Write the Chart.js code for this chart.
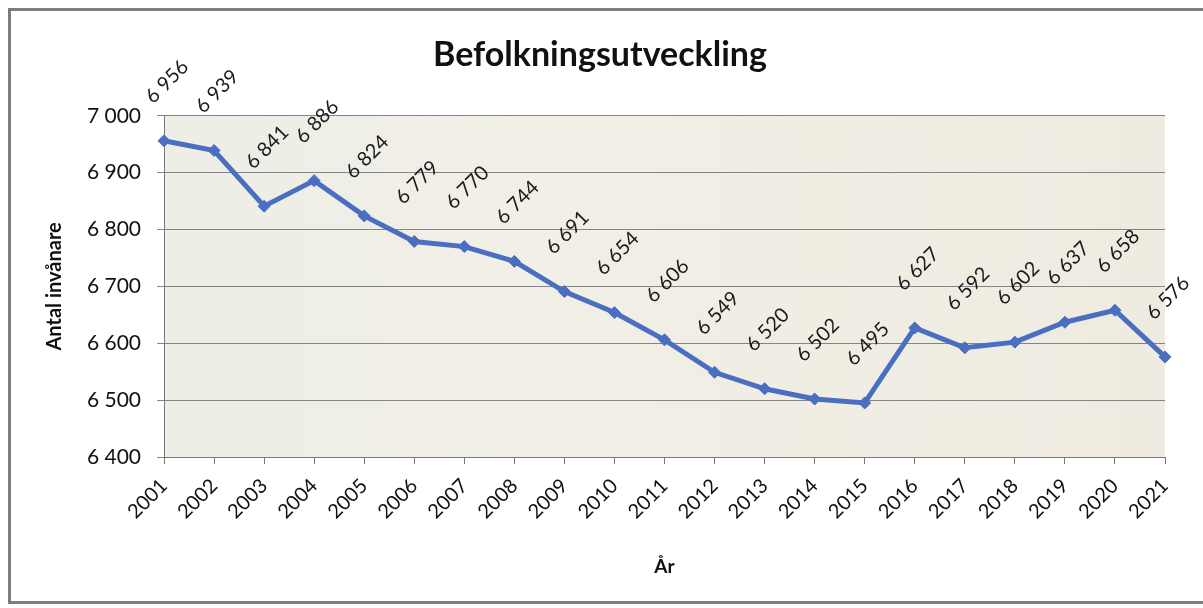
<!DOCTYPE html>
<html>
<head>
<meta charset="utf-8">
<script src="https://cdn.jsdelivr.net/npm/chart.js@4"></script>
<style>
body{margin:0;background:#fff;}
#wrap{position:absolute;left:0;top:0;width:1203px;height:608px;}
#frame{position:absolute;left:8px;top:8px;width:1200px;height:596px;border:3px solid #7d7d7d;box-sizing:border-box;pointer-events:none;}
</style>
</head>
<body>
<div id="wrap">
<canvas id="popChart" width="1203" height="608"></canvas>
<div id="frame"></div>
</div>
<script>
const years=["2001","2002","2003","2004","2005","2006","2007","2008","2009","2010","2011","2012","2013","2014","2015","2016","2017","2018","2019","2020","2021"];
const population=[6956,6939,6841,6886,6824,6779,6770,6744,6691,6654,6606,6549,6520,6502,6495,6627,6592,6602,6637,6658,6576];
const yTicks=[6400,6500,6600,6700,6800,6900,7000];

function fmt(v){
    return String(v).replace(/\B(?=(\d{3})+(?!\d))/g," ");
}

// bakgrund i diagramytan
const areaBg={
    id:'areaBg',
    beforeDraw(chart){
        const a=chart.chartArea;
        const ctx=chart.ctx;
        ctx.save();
        const g=ctx.createLinearGradient(a.left,0,a.right,0);
        g.addColorStop(0,'#eeeee6');
        g.addColorStop(0.35,'#f1efe6');
        g.addColorStop(1,'#efebe1');
        ctx.fillStyle=g;
        ctx.fillRect(a.left,a.top,a.right-a.left,a.bottom-a.top);
        ctx.restore();
    }
};

// roterade värdeetiketter
const valueLabels={
    id:'valueLabels',
    afterDatasetsDraw(chart){
        const ctx=chart.ctx;
        const meta=chart.getDatasetMeta(0);
        ctx.save();
        ctx.font='20px Lato';
        ctx.fillStyle='#1a1a1a';
        ctx.textAlign='center';
        ctx.textBaseline='middle';
        meta.data.forEach((pt,i)=>{
            ctx.save();
            ctx.translate(pt.x+3,pt.y-59);
            ctx.rotate(-Math.PI/4);
            ctx.fillText(fmt(population[i]),0,0);
            ctx.restore();
        });
        ctx.restore();
    }
};

new Chart(document.getElementById('popChart').getContext('2d'),{
    type:'line',
    data:{
        labels:years,
        datasets:[{
            data:population,
            borderColor:'#4a6ec0',
            backgroundColor:'#4a6ec0',
            borderWidth:5,
            pointStyle:'rectRot',
            pointRadius:6,
            pointBorderWidth:1,
            tension:0
        }]
    },
    options:{
        responsive:false,
        animation:false,
        layout:{padding:{left:35,right:38,top:35,bottom:26}},
        plugins:{
            legend:{display:false},
            tooltip:{enabled:false},
            title:{
                display:true,
                text:'Befolkningsutveckling',
                color:'#111',
                font:{family:'Lato',size:34,weight:'bold'},
                padding:{top:0,bottom:40}
            }
        },
        scales:{
            x:{
                offset:false,
                grid:{drawOnChartArea:false,drawTicks:true,tickLength:7,color:'#777'},
                border:{color:'#777',width:1},
                ticks:{color:'#111',font:{family:'Lato',size:20},minRotation:45,maxRotation:45,padding:10},
                title:{display:true,text:'År',color:'#111',font:{family:'Lato',size:19,weight:'bold'},padding:{top:4}},
                afterFit(s){s.height=125;}
            },
            y:{
                min:6400,
                max:7000,
                afterBuildTicks(s){s.ticks=yTicks.map(v=>({value:v}));},
                grid:{color:'#848484',lineWidth:1,drawTicks:true,tickLength:7},
                border:{color:'#777',width:1},
                ticks:{color:'#111',font:{family:'Lato',size:21},padding:16,callback:v=>fmt(v)},
                title:{display:true,text:'Antal invånare',color:'#111',font:{family:'Lato',size:20,weight:'bold'},padding:{top:8,bottom:4}},
                afterFit(s){s.width=129;}
            }
        }
    },
    plugins:[areaBg,valueLabels]
});
</script>
</body>
</html>
